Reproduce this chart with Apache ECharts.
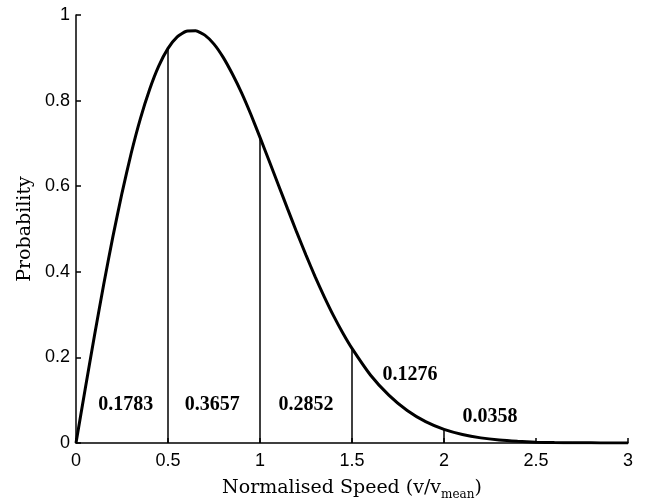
<!DOCTYPE html>
<html>
<head>
<meta charset="utf-8">
<script src="https://cdn.jsdelivr.net/npm/echarts@6/dist/echarts.min.js"></script>
<style>
  html, body { margin: 0; padding: 0; background: #fff; }
  #chart { width: 652px; height: 502px; }
</style>
</head>
<body>
<div id="chart"></div>
<script>
// speed values
const speedX = [0, 0.05, 0.1, 0.15, 0.2, 0.25, 0.3, 0.35, 0.4, 0.45, 0.5, 0.55, 0.6, 0.65, 0.7, 0.75, 0.8, 0.85, 0.9, 0.95,
  1.0, 1.05, 1.1, 1.15, 1.2, 1.25, 1.3, 1.35, 1.4, 1.45, 1.5, 1.6, 1.7, 1.8, 1.9, 2.0, 2.1, 2.2, 2.3, 2.4, 2.5,
  2.6, 2.7, 2.8, 2.9, 3.0]
const probY = [0, 0.126, 0.250, 0.369, 0.481, 0.584, 0.677, 0.758, 0.826, 0.881, 0.922, 0.949, 0.962, 0.963, 0.953, 0.932,
  0.901, 0.862, 0.818, 0.768, 0.714, 0.659, 0.603, 0.547, 0.492, 0.439, 0.388, 0.341, 0.297, 0.257, 0.221,
  0.159, 0.112, 0.076, 0.050, 0.032, 0.020, 0.012, 0.007, 0.004, 0.002, 0.001, 0.0006, 0.0003, 0.0001, 0.0001]

// vertical dividers
const cutX = [0.5, 1, 1.5, 2]
const cutY = [0.922, 0.714, 0.221, 0.032]

// area labels
const areaText = ['0.1783', '0.3657', '0.2852', '0.1276', '0.0358']
const areaX = [0.27, 0.74, 1.25, 1.815, 2.25]
const areaY = [0.089, 0.089, 0.089, 0.159, 0.061]

const chart = echarts.init(document.getElementById('chart'))

const curveSeries = {
  type: 'line',
  data: speedX.map((x, i) => [x, probY[i]]),
  showSymbol: false,
  smooth: 0.2,
  lineStyle: { color: '#000', width: 3 },
  z: 3
}

const cutSeries = cutX.map((x, i) => ({
  type: 'line',
  data: [[x, 0], [x, cutY[i]]],
  showSymbol: false,
  lineStyle: { color: '#000', width: 1.5 },
  z: 2
}))

const labelSeries = {
  type: 'scatter',
  symbolSize: 0,
  itemStyle: { opacity: 1, color: '#000' },
  data: areaX.map((x, i) => ({ value: [x, areaY[i]], name: areaText[i] })),
  label: {
    show: true,
    position: 'inside',
    formatter: p => p.name,
    fontFamily: 'Liberation Serif',
    fontWeight: 'bold',
    fontSize: 20,
    color: '#000',
    opacity: 1,
    textBorderWidth: 0
  },
  z: 4
}

const option = {
  backgroundColor: '#fff',
  animation: false,
  grid: { left: 76, right: 24, top: 15, bottom: 59, outerBoundsMode: 'none', containLabel: false },
  xAxis: {
    type: 'value',
    min: 0,
    max: 3,
    interval: 0.5,
    name: '{n|Normalised Speed (v/v}{s|mean}{n|)}',
    nameLocation: 'middle',
    nameGap: 31,
    nameTextStyle: {
      rich: {
        n: { fontFamily: 'DejaVu Serif', fontSize: 19, color: '#000', lineHeight: 22 },
        s: { fontFamily: 'DejaVu Serif', fontSize: 12, color: '#000', padding: [14, 0, 0, 0], lineHeight: 22 }
      }
    },
    axisLine: { lineStyle: { color: '#000', width: 1.5 } },
    axisTick: { inside: true, length: 5, lineStyle: { color: '#000', width: 1.5 } },
    axisLabel: { color: '#000', fontFamily: 'Liberation Sans', fontSize: 18, margin: 9 },
    splitLine: { show: false }
  },
  yAxis: {
    type: 'value',
    min: 0,
    max: 1,
    interval: 0.2,
    name: 'Probability',
    nameLocation: 'middle',
    nameGap: 40,
    nameTextStyle: { fontFamily: 'DejaVu Serif', fontSize: 19, color: '#000' },
    axisLine: { show: true, lineStyle: { color: '#000', width: 1.5 } },
    axisTick: { show: true, inside: true, length: 5, lineStyle: { color: '#000', width: 1.5 } },
    axisLabel: { color: '#000', fontFamily: 'Liberation Sans', fontSize: 18, margin: 6 },
    splitLine: { show: false }
  },
  series: [curveSeries, ...cutSeries, labelSeries]
}

chart.setOption(option)
</script>
</body>
</html>
